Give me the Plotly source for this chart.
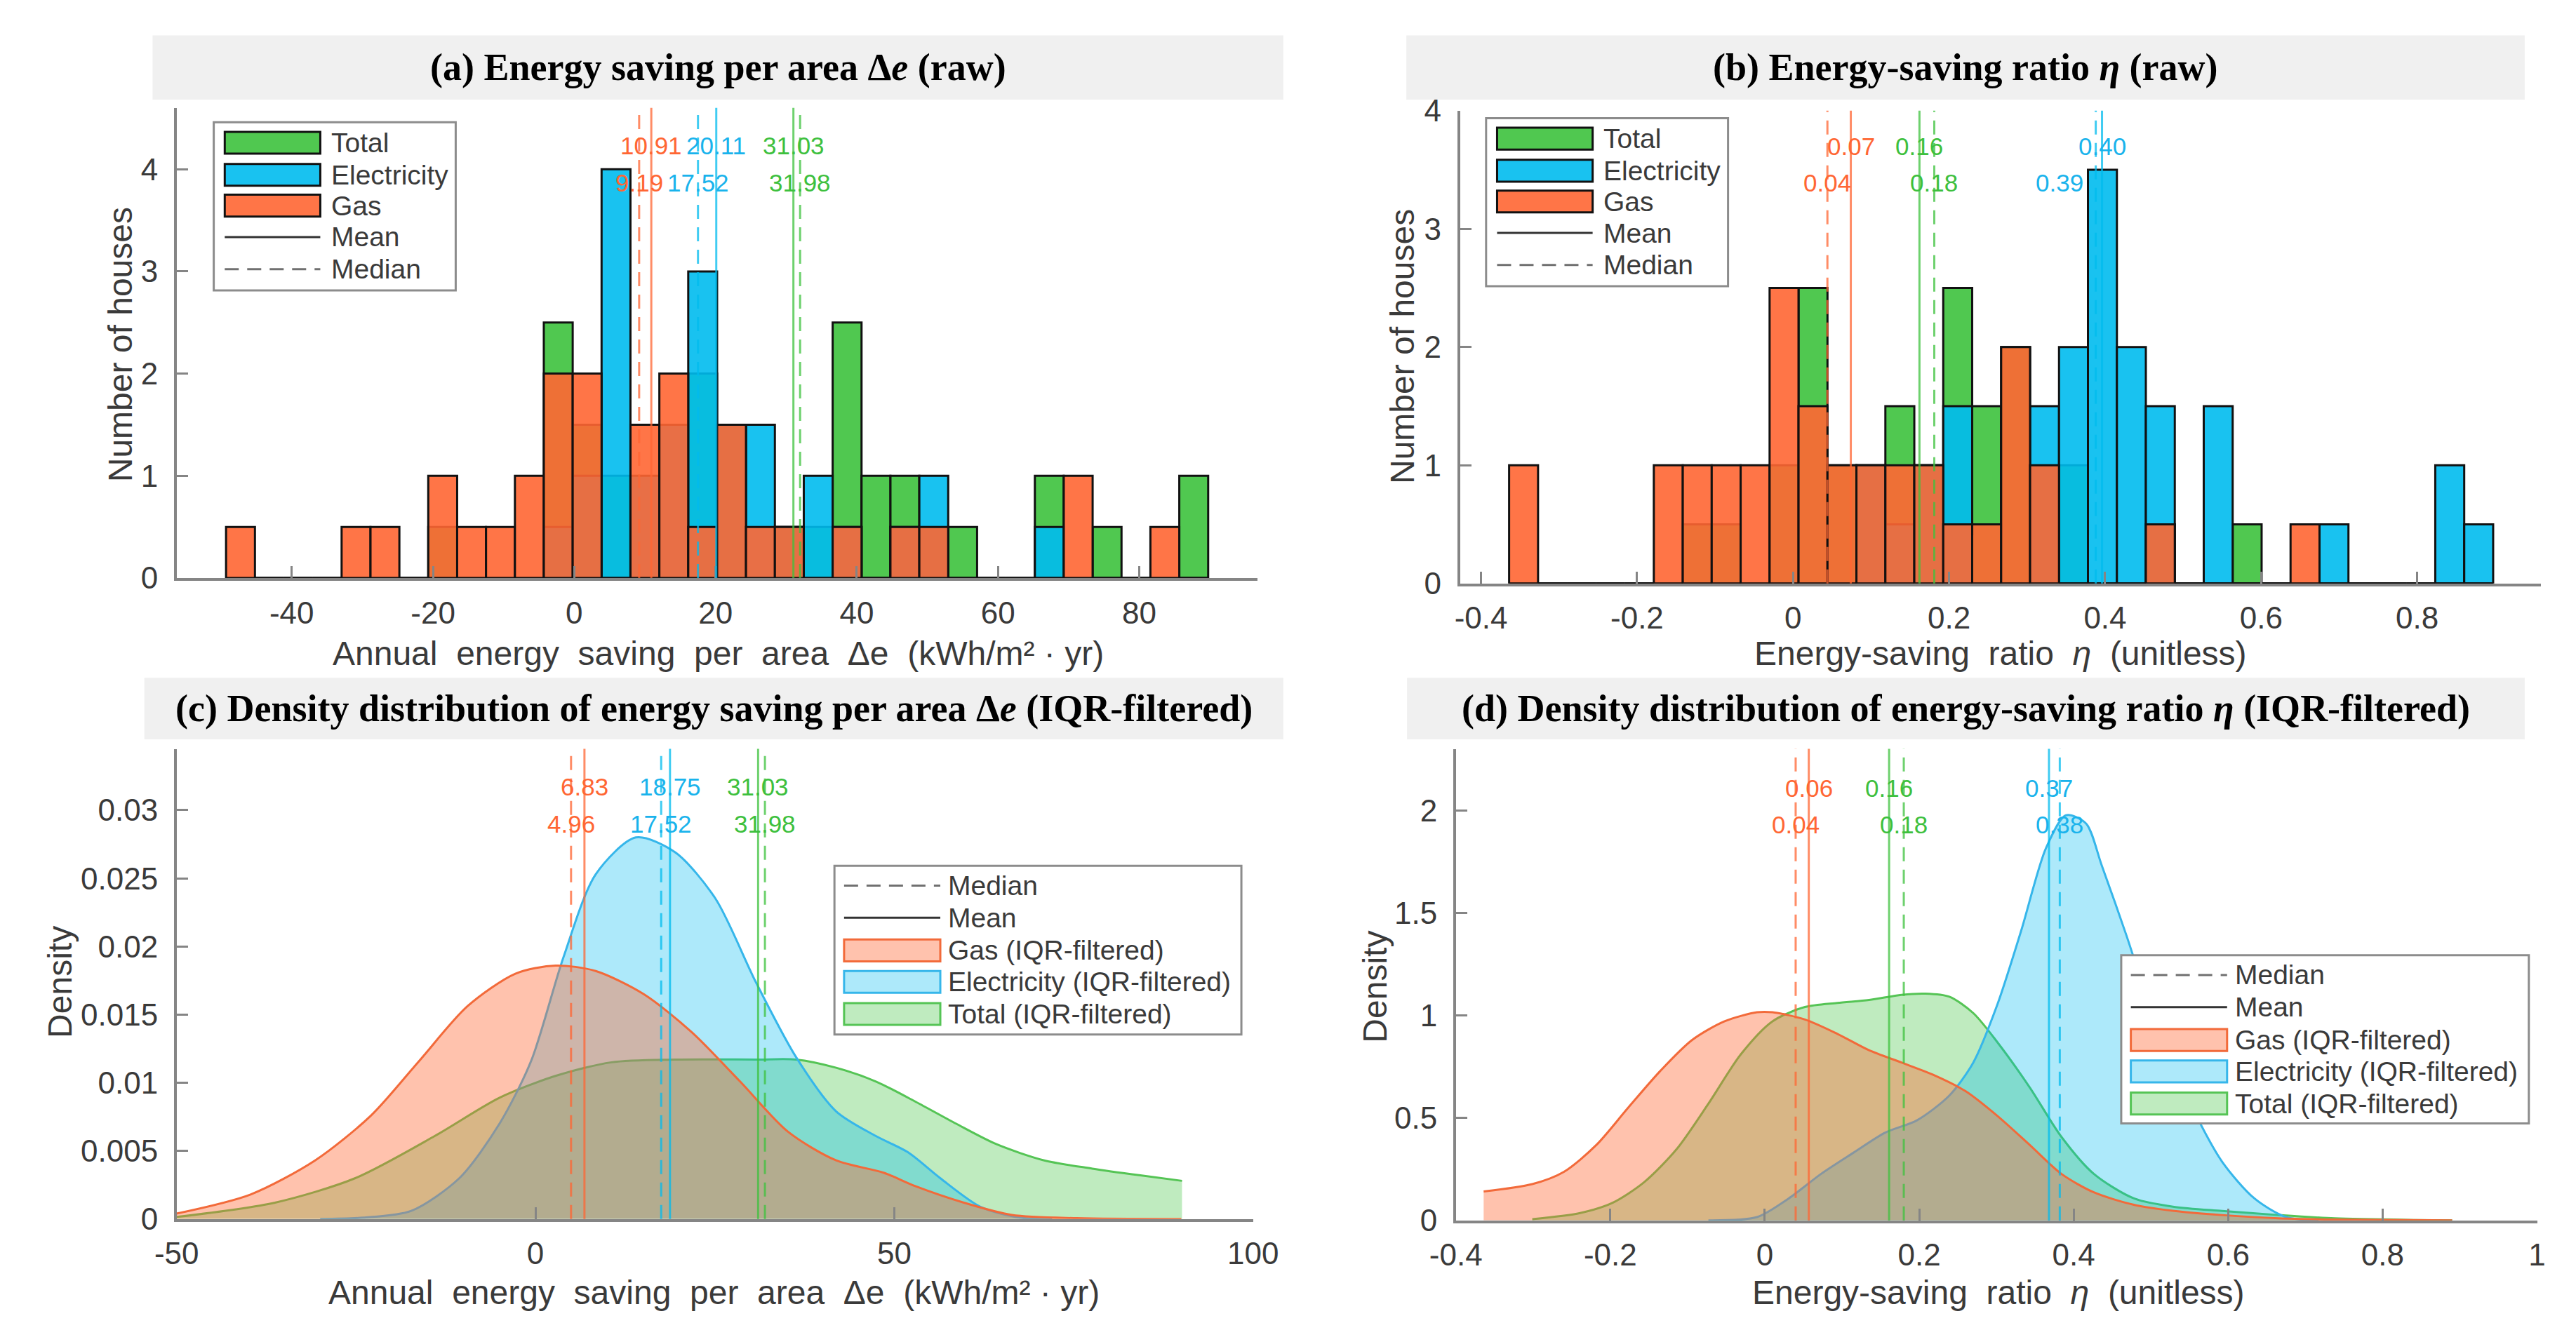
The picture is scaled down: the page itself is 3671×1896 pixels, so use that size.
import plotly.graph_objects as go

W, H = 3671, 1896

# ---------------- DATA ----------------
# (a) raw histogram: energy saving per area (kWh/m2*yr), 34 common bins
a_bin_start = -49.3
a_bin_width = 4.09
a_total = [0, 0, 0, 0, 0, 0, 0, 0.5, 0, 0, 0, 2.5, 1.5, 1, 0, 0, 2, 1.5, 0, 0.5,
           0.5, 2.5, 1, 1, 0.5, 0.5, 0, 0, 1, 0, 0.5, 0, 0, 1]
a_elec = [0, 0, 0, 0, 0, 0, 0, 0, 0, 0, 0, 0.5, 1, 4, 1, 1.5, 3, 1.5, 1.5, 0.5,
          1, 0.5, 0, 0.5, 1, 0, 0, 0, 0.5, 0, 0, 0, 0, 0]
a_gas = [0.5, 0, 0, 0, 0.5, 0.5, 0, 1, 0.5, 0.5, 1, 2, 2, 0, 1.5, 2, 0.5, 1.5, 0.5, 0.5,
         0, 0.5, 0, 0.5, 0.5, 0, 0, 0, 0, 1, 0, 0, 0.5, 0]

# (b) raw histogram: energy-saving ratio eta, 34 common bins
b_bin_start = -0.364
b_bin_width = 0.0371
b_total = [0, 0, 0, 0, 0, 0, 0.5, 0.5, 0, 1, 2.5, 1, 1, 1.5, 1, 2.5, 1.5, 2, 1, 1,
           0, 0, 0.5, 0, 0, 0.5, 0, 0, 0, 0, 0, 0, 0, 0]
b_elec = [0, 0, 0, 0, 0, 0, 0, 0, 0, 0, 0, 0, 1, 0.5, 1, 1.5, 0, 0, 1.5, 2,
          3.5, 2, 1.5, 0, 1.5, 0, 0, 0, 0.5, 0, 0, 0, 1, 0.5]
b_gas = [1, 0, 0, 0, 0, 1, 1, 1, 1, 2.5, 1.5, 1, 1, 1, 1, 0.5, 0.5, 2, 1, 0,
         0, 0, 0.5, 0, 0, 0, 0, 0.5, 0, 0, 0, 0, 0, 0]

# statistics, order: Gas, Electricity, Total
stat_series = ["Gas", "Electricity", "Total"]
a_means = [10.91, 20.11, 31.03]
a_medians = [9.19, 17.52, 31.98]
b_means = [0.074, 0.396, 0.162]
b_medians = [0.044, 0.388, 0.181]
c_means = [6.83, 18.75, 31.03]
c_medians = [4.96, 17.52, 31.98]
d_means = [0.057, 0.368, 0.161]
d_medians = [0.040, 0.382, 0.180]

# (c) KDE of energy saving per area (IQR-filtered)
c_gas_x = [-50, -39.7, -30.7, -22.9, -16.2, -9.5, -2.8, 2.8, 8.4, 15.1, 21.8, 28.5,
           35.2, 41.9, 48.5, 53, 59.7, 66.4, 75.4, 90]
c_gas_y = [0.0004, 0.0018, 0.0043, 0.0076, 0.0116, 0.0156, 0.0180, 0.0186, 0.0182,
           0.0165, 0.0137, 0.0101, 0.0064, 0.0043, 0.0034, 0.0024, 0.0012, 0.0003,
           0.00006, 0.0]
c_elec_x = [-30, -24, -17.3, -10.6, -5, -0.6, 3.9, 8.4, 14, 19.5, 25.1, 30.7, 36.3,
            41.9, 47.4, 51.9, 56.4, 62, 67.5, 72]
c_elec_y = [0, 0.0001, 0.0006, 0.003, 0.007, 0.0116, 0.0192, 0.0253, 0.028, 0.0269,
            0.0235, 0.0174, 0.0119, 0.0079, 0.0061, 0.0049, 0.003, 0.0009, 0.0001, 0]
c_total_x = [-50, -36.3, -25.1, -14, -5, 2.8, 10.6, 19.5, 30.7, 36.3, 41.9, 47.4,
             53, 58.6, 64.2, 70.9, 77.6, 84.3, 90.1]
c_total_y = [0.00015, 0.0012, 0.003, 0.0061, 0.0089, 0.0105, 0.0115, 0.0117, 0.0117,
             0.0117, 0.0111, 0.0101, 0.0086, 0.007, 0.0055, 0.0043, 0.0037, 0.0032,
             0.0028]

# (d) KDE of energy-saving ratio (IQR-filtered)
d_gas_x = [-0.364, -0.301, -0.26, -0.218, -0.177, -0.135, -0.094, -0.052, -0.010,
           0.010, 0.052, 0.094, 0.135, 0.177, 0.218, 0.26, 0.301, 0.343, 0.384,
           0.426, 0.478, 0.53, 0.592, 0.665, 0.738, 0.89]
d_gas_y = [0.141, 0.177, 0.237, 0.368, 0.549, 0.73, 0.88, 0.971, 1.015, 1.015, 0.98,
           0.91, 0.83, 0.77, 0.71, 0.63, 0.51, 0.368, 0.227, 0.137, 0.076, 0.046,
           0.026, 0.01, 0.004, 0.0]
d_elec_x = [-0.073, -0.010, 0.031, 0.073, 0.114, 0.156, 0.197, 0.239, 0.27, 0.301,
            0.332, 0.364, 0.39, 0.416, 0.436, 0.468, 0.509, 0.551, 0.592, 0.634,
            0.675, 0.717]
d_elec_y = [0, 0.016, 0.107, 0.227, 0.328, 0.428, 0.488, 0.609, 0.77, 1.051, 1.413,
            1.815, 1.976, 1.936, 1.735, 1.393, 0.93, 0.569, 0.287, 0.107, 0.016, 0]
d_total_x = [-0.301, -0.239, -0.197, -0.156, -0.114, -0.073, -0.031, 0.010, 0.052,
             0.094, 0.135, 0.177, 0.208, 0.239, 0.27, 0.301, 0.343, 0.384, 0.426,
             0.478, 0.53, 0.592, 0.665, 0.738, 0.842, 0.89]
d_total_y = [0.006, 0.036, 0.086, 0.187, 0.348, 0.569, 0.81, 0.971, 1.041, 1.061,
             1.075, 1.1, 1.106, 1.091, 1.011, 0.87, 0.649, 0.408, 0.227, 0.107,
             0.066, 0.046, 0.026, 0.01, 0.002, 0.0]

# tick values / labels
a_xticks = [-40, -20, 0, 20, 40, 60, 80]
a_xticklabels = ["-40", "-20", "0", "20", "40", "60", "80"]
a_yticks = [0, 1, 2, 3, 4]
b_xticks = [-0.4, -0.2, 0, 0.2, 0.4, 0.6, 0.8]
b_xticklabels = ["-0.4", "-0.2", "0", "0.2", "0.4", "0.6", "0.8"]
b_yticks = [0, 1, 2, 3, 4]
c_xticks = [-50, 0, 50, 100]
c_xticklabels = ["-50", "0", "50", "100"]
c_yticks = [0, 0.005, 0.01, 0.015, 0.02, 0.025, 0.03]
c_yticklabels = ["0", "0.005", "0.01", "0.015", "0.02", "0.025", "0.03"]
d_xticks = [-0.4, -0.2, 0, 0.2, 0.4, 0.6, 0.8, 1]
d_xticklabels = ["-0.4", "-0.2", "0", "0.2", "0.4", "0.6", "0.8", "1"]
d_yticks = [0, 0.5, 1, 1.5, 2]
d_yticklabels = ["0", "0.5", "1", "1.5", "2"]

# ---------------- STYLE ----------------
SANS = "Liberation Sans, Arial, sans-serif"
SERIF = "Liberation Serif, Times New Roman, serif"
TXT = "#3A3A3A"
AX = "#858585"
COL = {"Total": (61, 194, 61), "Electricity": (0, 187, 238), "Gas": (255, 102, 51)}
LBL = {"Total": "#3DC03D", "Electricity": "#19B3EC", "Gas": "#FF6633"}
KDE_LINE = {"Total": "#55C455", "Electricity": "#36B6EA", "Gas": "#F26A3A"}
KDE_ALPHA = {"Total": 0.33, "Electricity": 0.32, "Gas": 0.40}
F_TICK, F_AXT, F_LEG, F_VAL, F_TTL = 44, 48, 39, 35, 54


def rgba(c, a):
    return "rgba(%d,%d,%d,%.2f)" % (c[0], c[1], c[2], a)


def px(x):
    return x / W


def py(y):
    return 1 - y / H


fig = go.Figure()

# ---------------- HISTOGRAMS ----------------
def add_hist(start, width, series, ax):
    n = len(series[0][1])
    centers = [start + width * (i + 0.5) for i in range(n)]
    for name, vals in series:
        fig.add_trace(go.Bar(
            x=centers, y=vals, width=[width] * n, name=name,
            marker=dict(color=rgba(COL[name], 0.9),
                        line=dict(color="#111111", width=3)),
            xaxis="x" + ax, yaxis="y" + ax, showlegend=False,
            hovertemplate="%{x:.2f}: %{y}<extra>" + name + "</extra>"))


add_hist(a_bin_start, a_bin_width,
         [("Total", a_total), ("Electricity", a_elec), ("Gas", a_gas)], "")
add_hist(b_bin_start, b_bin_width,
         [("Total", b_total), ("Electricity", b_elec), ("Gas", b_gas)], "2")

# ---------------- KDE curves (drawn Total, Electricity, Gas on top) ----------------
def add_kde(curves, ax):
    for name, xs, ys in curves:
        fig.add_trace(go.Scatter(
            x=xs, y=ys, mode="lines", name=name + " (IQR-filtered)",
            line=dict(color=KDE_LINE[name], width=3, shape="spline", smoothing=0.8),
            fill="tozeroy", fillcolor=rgba(COL[name], KDE_ALPHA[name]),
            xaxis="x" + ax, yaxis="y" + ax, showlegend=False))


add_kde([("Total", c_total_x, c_total_y), ("Electricity", c_elec_x, c_elec_y),
         ("Gas", c_gas_x, c_gas_y)], "3")
add_kde([("Total", d_total_x, d_total_y), ("Electricity", d_elec_x, d_elec_y),
         ("Gas", d_gas_x, d_gas_y)], "4")

shapes = []
annotations = []

# ---------------- mean / median lines + value labels ----------------
def add_stats(means, medians, ax, y_mean_lbl, y_med_lbl, shift_right=None):
    xref = "x" + ax
    yref = "y" + ax
    for i, name in enumerate(stat_series):
        for val, dash in ((means[i], "solid"), (medians[i], "20px,12px")):
            shapes.append(dict(type="line", xref=xref, yref=yref + " domain",
                               x0=val, x1=val, y0=0, y1=1, layer="above",
                               line=dict(color=rgba(COL[name], 0.75), width=3, dash=dash)))
        annotations.append(dict(x=means[i], y=y_mean_lbl, xref=xref, yref=yref,
                                text="%.2f" % means[i], showarrow=False,
                                xanchor="center", yanchor="middle",
                                font=dict(family=SANS, size=F_VAL, color=LBL[name])))
        xa = "center"
        xm = medians[i]
        if shift_right is not None and name == shift_right[0]:
            xa = "right"
            xm = medians[i] - shift_right[1]
        annotations.append(dict(x=xm, y=y_med_lbl, xref=xref, yref=yref,
                                text="%.2f" % medians[i], showarrow=False,
                                xanchor=xa, yanchor="middle",
                                font=dict(family=SANS, size=F_VAL, color=LBL[name])))


add_stats(a_means, a_medians, "", 4.23, 3.87)
add_stats(b_means, b_medians, "2", 3.70, 3.39, shift_right=("Electricity", 0.014))
add_stats(c_means, c_medians, "3", 0.0317, 0.0290)
add_stats(d_means, d_medians, "4", 2.11, 1.93)

# ---------------- title bands ----------------
titles = [
    ("<b>(a) Energy saving per area Δ<i>e</i> (raw)</b>", 175, 1820, 18, 112),
    ("<b>(b) Energy-saving ratio <i>η</i> (raw)</b>", 1999, 3626, 18, 112),
    ("<b>(c) Density distribution of energy saving per area Δ<i>e</i> (IQR-filtered)</b>",
     163, 1820, 958, 1048),
    ("<b>(d) Density distribution of energy-saving ratio <i>η</i> (IQR-filtered)</b>",
     2000, 3626, 958, 1048),
]
for text, x0, x1, y0, y1 in titles:
    shapes.append(dict(type="rect", xref="paper", yref="paper", layer="below",
                       x0=px(x0), x1=px(x1), y0=py(y1), y1=py(y0),
                       fillcolor="#F0F0F0", line=dict(width=0)))
    annotations.append(dict(x=px((x0 + x1) / 2), y=py((y0 + y1) / 2), xref="paper",
                            yref="paper", text=text, showarrow=False,
                            xanchor="center", yanchor="middle",
                            font=dict(family=SERIF, size=F_TTL, color="#000000")))

# ---------------- axis titles ----------------
SP = " \u00a0"
xlab_e = SP.join(["Annual", "energy", "saving", "per", "area", "Δe",
                  "(kWh/m² · yr)"])
xlab_r = SP.join(["Energy-saving", "ratio", "<i>η</i>", "(unitless)"])
axis_titles = [
    (xlab_e, 998, 922, 0), (xlab_r, 2863, 922, 0),
    (xlab_e, 992, 1857, 0), (xlab_r, 2860, 1857, 0),
    ("Number of houses", 128, 470, -90), ("Number of houses", 1994, 473, -90),
    ("Density", 41, 1403, -90), ("Density", 1953, 1410, -90),
]
for text, x, y, ang in axis_titles:
    annotations.append(dict(x=px(x), y=py(y), xref="paper", yref="paper", text=text,
                            showarrow=False, textangle=ang, xanchor="center",
                            yanchor="middle",
                            font=dict(family=SANS, size=F_AXT, color=TXT)))

# ---------------- legends (drawn) ----------------
def add_legend(left, top, w, h, rows, patch_x, text_x, entries):
    shapes.append(dict(type="rect", xref="paper", yref="paper", layer="above",
                       x0=px(left), x1=px(left + w), y0=py(top + h), y1=py(top),
                       fillcolor="white", line=dict(color="#8C8C8C", width=3)))
    for (kind, name, label), r in zip(entries, rows):
        yc = top + r
        x0, x1 = left + patch_x[0], left + patch_x[1]
        if kind == "bar":
            shapes.append(dict(type="rect", xref="paper", yref="paper", layer="above",
                               x0=px(x0), x1=px(x1), y0=py(yc + 16), y1=py(yc - 16),
                               fillcolor=rgba(COL[name], 0.9),
                               line=dict(color="#111111", width=3)))
        elif kind == "kde":
            shapes.append(dict(type="rect", xref="paper", yref="paper", layer="above",
                               x0=px(x0), x1=px(x1), y0=py(yc + 16), y1=py(yc - 16),
                               fillcolor=rgba(COL[name], KDE_ALPHA[name]),
                               line=dict(color=KDE_LINE[name], width=3)))
        else:
            dash = "solid" if kind == "mean" else "20px,12px"
            col = "#333333" if kind == "mean" else "#707070"
            shapes.append(dict(type="line", xref="paper", yref="paper", layer="above",
                               x0=px(x0), x1=px(x1), y0=py(yc), y1=py(yc),
                               line=dict(color=col, width=3, dash=dash)))
        annotations.append(dict(x=px(left + text_x), y=py(yc), xref="paper",
                                yref="paper", text=label, showarrow=False,
                                xanchor="left", yanchor="middle",
                                font=dict(family=SANS, size=F_LEG, color=TXT)))


hist_entries = [("bar", "Total", "Total"), ("bar", "Electricity", "Electricity"),
                ("bar", "Gas", "Gas"), ("mean", None, "Mean"),
                ("median", None, "Median")]
kde_entries = [("median", None, "Median"), ("mean", None, "Mean"),
               ("kde", "Gas", "Gas (IQR-filtered)"),
               ("kde", "Electricity", "Electricity (IQR-filtered)"),
               ("kde", "Total", "Total (IQR-filtered)")]
hist_rows = [30, 77, 122, 168, 215]
kde_rows = [29, 76, 124, 170, 217]
add_legend(264, 145, 352, 246, hist_rows, (16, 155), 169, hist_entries)
add_legend(2115, 139, 352, 246, hist_rows, (16, 155), 169, hist_entries)
add_legend(1167, 1233, 592, 247, kde_rows, (14, 154), 163, kde_entries)
add_legend(3039, 1364, 593, 246, kde_rows, (14, 154), 163, kde_entries)

# ---------------- axes ----------------
def xax(x0, x1, rng, tv, tt, anchor):
    return dict(domain=[px(x0), px(x1)], range=rng, tickvals=tv, ticktext=tt,
                anchor=anchor, ticks="inside", ticklen=17, tickwidth=3, tickcolor=AX,
                showline=True, linecolor=AX, linewidth=3.5, showgrid=False,
                zeroline=False, ticklabelstandoff=8,
                tickfont=dict(family=SANS, size=F_TICK, color=TXT))


def yax(y_top, y_bot, rng, tv, tt, anchor):
    return dict(domain=[py(y_bot), py(y_top)], range=rng, tickvals=tv, ticktext=tt,
                anchor=anchor, ticks="inside", ticklen=17, tickwidth=3, tickcolor=AX,
                showline=True, linecolor=AX, linewidth=3.5, showgrid=False,
                zeroline=False, ticklabelstandoff=14,
                tickfont=dict(family=SANS, size=F_TICK, color=TXT))


fig.update_layout(
    width=W, height=H, margin=dict(l=0, r=0, t=0, b=0),
    paper_bgcolor="white", plot_bgcolor="white", barmode="overlay",
    showlegend=False,
    xaxis=xax(210, 1782, [-56.3, 96.7], a_xticks, a_xticklabels, "y"),
    yaxis=yax(124, 812, [0, 4.6], a_yticks, [str(v) for v in a_yticks], "x"),
    xaxis2=xax(2077, 3650, [-0.427, 0.959], b_xticks, b_xticklabels, "y2"),
    yaxis2=yax(128, 820, [0, 4.0], b_yticks, [str(v) for v in b_yticks], "x2"),
    xaxis3=xax(210, 1776, [-50, 100], c_xticks, c_xticklabels, "y3"),
    yaxis3=yax(1062, 1750, [0, 0.0345], c_yticks, c_yticklabels, "x3"),
    xaxis4=xax(2071, 3644, [-0.4, 1.0], d_xticks, d_xticklabels, "y4"),
    yaxis4=yax(1062, 1752, [0, 2.3], d_yticks, d_yticklabels, "x4"),
    shapes=shapes, annotations=annotations,
)

fig.write_html("out.html")
